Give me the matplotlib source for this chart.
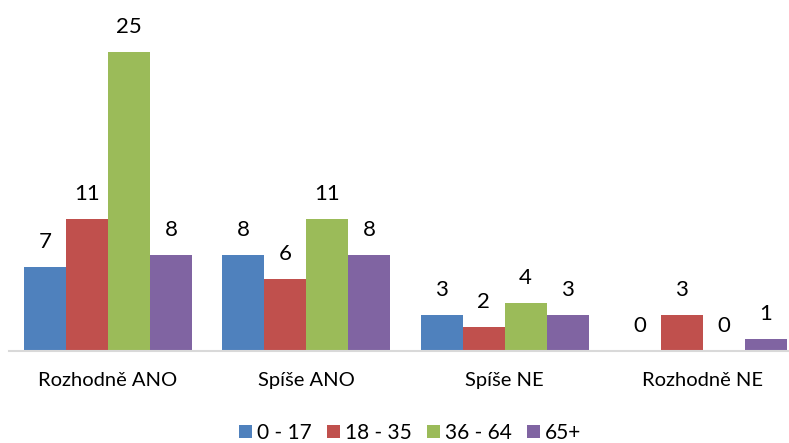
import numpy as np
import matplotlib.pyplot as plt

categories = ['Rozhodně ANO', 'Spíše ANO', 'Spíše NE', 'Rozhodně NE']
series_names = ['0 - 17', '18 - 35', '36 - 64', '65+']
values = [
    [7, 8, 3, 0],
    [11, 6, 2, 3],
    [25, 11, 4, 0],
    [8, 8, 3, 1],
]
colors = ['#4F81BD', '#C0504D', '#9BBB59', '#8064A2']

plt.rcParams['font.family'] = ['Lato', 'DejaVu Sans']

fig = plt.figure(figsize=(7.89, 4.43), dpi=100)
ax = fig.add_axes([9 / 789, 92 / 443, 793 / 789, 299 / 443])

x = np.arange(len(categories))
w = 0.212
for i, (name, vals) in enumerate(zip(series_names, values)):
    pos = x + (i - 1.5) * w
    ax.bar(pos, vals, w, color=colors[i], label=name)
    for p, v in zip(pos, vals):
        ax.annotate(str(v), (p, v), xytext=(0, 18), textcoords='offset points',
                    ha='center', va='center', fontsize=16, annotation_clip=False)

ax.set_xlim(-0.5, len(categories) - 0.5)
ax.set_ylim(0, 25)
ax.set_yticks([])
ax.set_xticks(x)
ax.set_xticklabels(categories, fontsize=14.5)
ax.tick_params(axis='x', length=0, pad=15)
for s in ['top', 'right', 'left']:
    ax.spines[s].set_visible(False)
ax.spines['bottom'].set_color('#D9D9D9')
ax.spines['bottom'].set_linewidth(1.5)

# legend along the bottom edge
fig.legend(loc='center', bbox_to_anchor=(0.52, 1 - 433 / 443), ncol=4, frameon=False,
           fontsize=15, handlelength=0.6, handleheight=0.6, handletextpad=0.25,
           columnspacing=0.75, borderpad=0)

fig.savefig('out.png', dpi=100)
